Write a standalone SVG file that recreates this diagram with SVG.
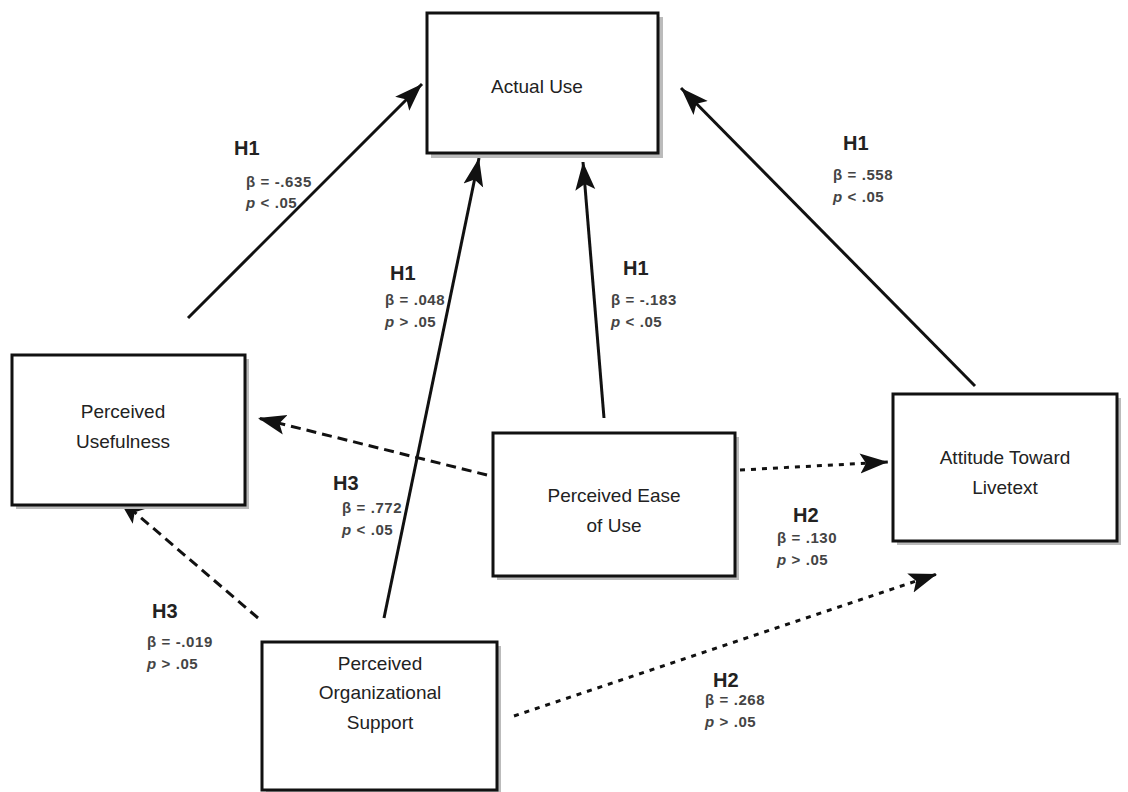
<svg xmlns="http://www.w3.org/2000/svg" width="1128" height="792" viewBox="0 0 1128 792">
<style>
.box{fill:#fff;stroke:#111;stroke-width:3}
.shadow{fill:#bbb}
.nt{font-family:"Liberation Sans",Arial,sans-serif;font-size:19px;fill:#222;text-anchor:middle}
.h{font-family:"Liberation Sans",Arial,sans-serif;font-size:20px;font-weight:bold;fill:#222}
.s{font-family:"Liberation Sans",Arial,sans-serif;font-size:15px;font-weight:bold;fill:#444;letter-spacing:0.6px}
.it{font-style:italic}
.c{fill:none;stroke:#111;stroke-width:3}
.dash{stroke-dasharray:10 6}
.dot{stroke-dasharray:5 6}
</style>
<defs>
<marker id="ah" markerUnits="userSpaceOnUse" markerWidth="30" markerHeight="24" refX="28" refY="12" orient="auto">
<path d="M0,2 L28,12 L0,22 L6,12 Z" fill="#111"/>
</marker>
</defs>
<g id="connectors">
<line class="c" x1="188" y1="318" x2="422" y2="84" marker-end="url(#ah)"/>
<line class="c" x1="384" y1="618" x2="479" y2="158" marker-end="url(#ah)"/>
<line class="c" x1="604" y1="418" x2="583" y2="162" marker-end="url(#ah)"/>
<line class="c" x1="975" y1="386" x2="681" y2="88" marker-end="url(#ah)"/>
<line class="c dash" x1="487" y1="475" x2="258" y2="418" marker-end="url(#ah)"/>
<line class="c dash" x1="258" y1="618" x2="118" y2="498" marker-end="url(#ah)"/>
<line class="c dot" x1="740" y1="470" x2="888" y2="462" marker-end="url(#ah)"/>
<line class="c dot" x1="514" y1="716" x2="937" y2="574" marker-end="url(#ah)"/>
</g>
<g id="actual-use">
<rect class="shadow" x="431" y="17" width="232" height="141"/>
<rect class="box" x="427" y="13" width="231" height="140"/>
<text class="nt" x="537" y="93">Actual Use</text>
</g>
<g id="perceived-usefulness">
<rect class="shadow" x="16" y="359" width="233" height="150"/>
<rect class="box" x="12" y="355" width="233" height="150"/>
<text class="nt" x="123" y="418">Perceived</text>
<text class="nt" x="123" y="448">Usefulness</text>
</g>
<g id="perceived-ease-of-use">
<rect class="shadow" x="497" y="437" width="242" height="143"/>
<rect class="box" x="493" y="433" width="242" height="143"/>
<text class="nt" x="614" y="502">Perceived Ease</text>
<text class="nt" x="614" y="532">of Use</text>
</g>
<g id="attitude-toward-livetext">
<rect class="shadow" x="897" y="398" width="224" height="147"/>
<rect class="box" x="893" y="394" width="224" height="147"/>
<text class="nt" x="1005" y="464">Attitude Toward</text>
<text class="nt" x="1005" y="494">Livetext</text>
</g>
<g id="perceived-organizational-support">
<rect class="shadow" x="266" y="646" width="235" height="150"/>
<rect class="box" x="262" y="642" width="235" height="148"/>
<text class="nt" x="380" y="670">Perceived</text>
<text class="nt" x="380" y="699">Organizational</text>
<text class="nt" x="380" y="729">Support</text>
</g>
<g id="labels">
<text class="h" x="234" y="155">H1</text>
<text class="s" x="246" y="187">β = -.635</text>
<text class="s" x="246" y="208"><tspan class="it">p</tspan> &lt; .05</text>
<text class="h" x="390" y="280">H1</text>
<text class="s" x="385" y="305">β = .048</text>
<text class="s" x="385" y="327"><tspan class="it">p</tspan> &gt; .05</text>
<text class="h" x="623" y="275">H1</text>
<text class="s" x="611" y="305">β = -.183</text>
<text class="s" x="611" y="327"><tspan class="it">p</tspan> &lt; .05</text>
<text class="h" x="843" y="150">H1</text>
<text class="s" x="833" y="180">β = .558</text>
<text class="s" x="833" y="202"><tspan class="it">p</tspan> &lt; .05</text>
<text class="h" x="333" y="490">H3</text>
<text class="s" x="342" y="513">β = .772</text>
<text class="s" x="342" y="535"><tspan class="it">p</tspan> &lt; .05</text>
<text class="h" x="793" y="522">H2</text>
<text class="s" x="777" y="543">β = .130</text>
<text class="s" x="777" y="565"><tspan class="it">p</tspan> &gt; .05</text>
<text class="h" x="152" y="618">H3</text>
<text class="s" x="147" y="647">β = -.019</text>
<text class="s" x="147" y="669"><tspan class="it">p</tspan> &gt; .05</text>
<text class="h" x="713" y="687">H2</text>
<text class="s" x="705" y="705">β = .268</text>
<text class="s" x="705" y="727"><tspan class="it">p</tspan> &gt; .05</text>
</g>
</svg>
